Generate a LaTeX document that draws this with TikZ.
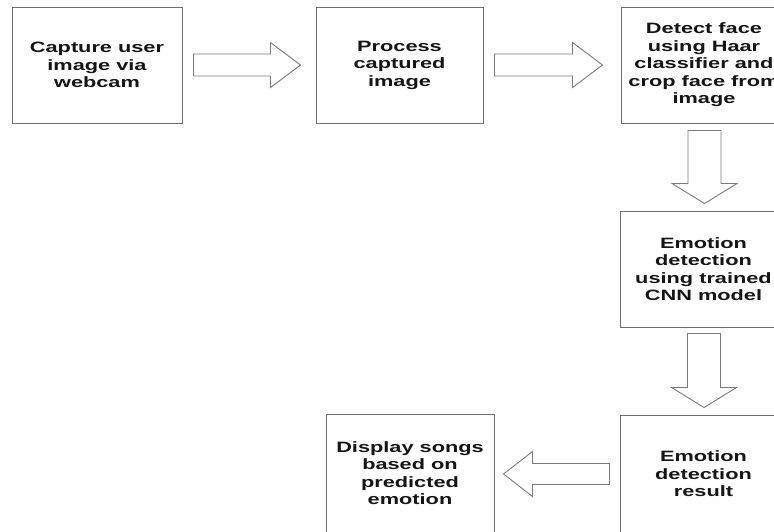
\documentclass[tikz,border=0pt]{standalone}
\usepackage{fontspec}
\usetikzlibrary{calc}
% wide bold sans for the step labels
\newfontfamily\steplabelfont{Liberation Sans}[FakeStretch=1.45]
\definecolor{boxline}{HTML}{6E6E6E}
\definecolor{arrowline}{HTML}{7A7A7A}
\definecolor{labeltext}{HTML}{151515}
\begin{document}
\begin{tikzpicture}[x=1pt,y=-1pt,
  stepbox/.style={draw=boxline, line width=1pt, fill=white, rectangle,
    minimum width=167pt, minimum height=116pt, inner sep=0pt, align=center,
    text=labeltext, font=\steplabelfont\bfseries\fontsize{15}{17.5}\selectfont},
  blockarr/.style={draw=arrowline, line width=0.9pt, fill=white, line join=miter}]
\useasboundingbox (0,0) rectangle (774,531);
\clip (0,0) rectangle (774,531);

% process steps
\node[stepbox, minimum width=170pt] (capture) at (97,65) {Capture user\\image via\\webcam};
\node[stepbox] (process) at (399.5,65) {Process\\captured\\image};
\node[stepbox, minimum width=166pt] (detect) at (704,65) {Detect face\\using Haar\\classifier and\\crop face from\\image};
\node[stepbox] (emotion) at (703.5,269) {Emotion\\detection\\using trained\\CNN model};
\node[stepbox, minimum height=118pt] (result) at (703.5,474) {Emotion\\detection\\result};
\node[stepbox, minimum width=168pt, minimum height=118pt] (display) at (410,473) {Display songs\\based on\\predicted\\emotion};

% tails of the block arrows
\coordinate (t1) at ($(capture.east)+(11,0)$);
\coordinate (t2) at ($(process.east)+(11,0)$);
\coordinate (t3) at ($(detect.south)+(0,7)$);
\coordinate (t4) at ($(emotion.south)+(0,6)$);
\coordinate (t5) at ($(result.west)+(-10,0)$);

% right-pointing arrows
\draw[blockarr] (t1) ++(0,-11) -- ++(77,0) -- ++(0,-11.5) -- ++(30,22.5)
  -- ++(-30,22.5) -- ++(0,-11.5) -- ++(-77,0) -- cycle;
\draw[blockarr] (t2) ++(0,-11) -- ++(78,0) -- ++(0,-11.5) -- ++(30,22.5)
  -- ++(-30,22.5) -- ++(0,-11.5) -- ++(-78,0) -- cycle;

% downward arrows
\draw[blockarr] (t3) ++(-16,0) -- ++(0,53) -- ++(-16,0) -- ++(32.5,20)
  -- ++(32.5,-20) -- ++(-16,0) -- ++(0,-53) -- cycle;
\draw[blockarr] (t4) ++(-16,0) -- ++(0,54) -- ++(-16,0) -- ++(32.5,20)
  -- ++(32.5,-20) -- ++(-16,0) -- ++(0,-54) -- cycle;

% left-pointing arrow
\draw[blockarr] (t5) ++(0,-10.5) -- ++(-77,0) -- ++(0,-12) -- ++(-29,22.5)
  -- ++(29,22.5) -- ++(0,-12) -- ++(77,0) -- cycle;
\end{tikzpicture}
\end{document}
